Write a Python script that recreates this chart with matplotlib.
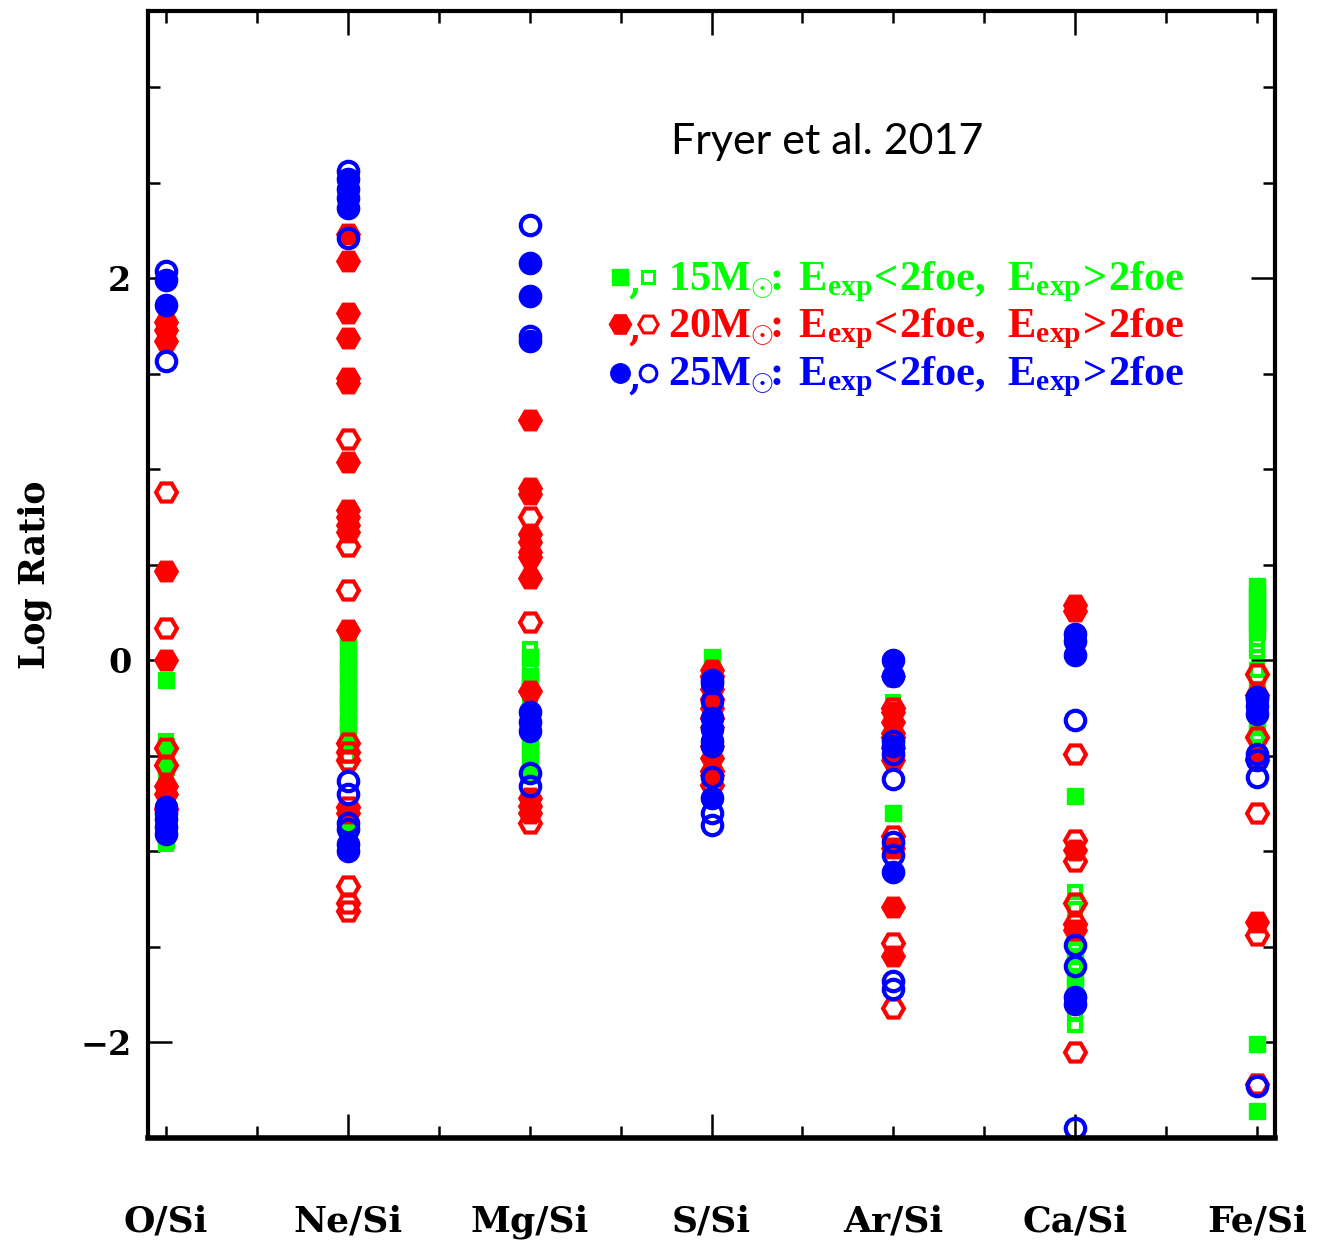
import matplotlib
matplotlib.use('Agg')
import matplotlib.pyplot as plt
from matplotlib.ticker import MultipleLocator

plt.rcParams['mathtext.fontset'] = 'custom'
plt.rcParams['mathtext.rm'] = 'Liberation Serif'
plt.rcParams['mathtext.bf'] = 'Liberation Serif:bold'

ratios = ['O/Si', 'Ne/Si', 'Mg/Si', 'S/Si', 'Ar/Si', 'Ca/Si', 'Fe/Si']

# log abundance ratios, one list per ratio (same order as `ratios`)
# "low"  -> explosion energy < 2 foe (filled symbols)
# "high" -> explosion energy > 2 foe (open symbols)
m15_low = [
    [-0.10, -0.45, -0.56, -0.74, -0.86, -0.94],
    [0.12, 0.07, 0.02, -0.03, -0.08, -0.13, -0.18, -0.23, -0.28, -0.33, -0.38, -0.43, -0.86],
    [0.02, -0.08, -0.13, -0.30, -0.45, -0.52, -0.60],
    [0.02, -0.40],
    [-0.80, -0.30, -0.45],
    [-0.71, -1.45, -1.55, -1.65, -1.70],
    [0.39, 0.35, 0.31, 0.27, 0.23, 0.19, 0.15, -0.15, -0.25, -0.35, -2.01, -2.36],
]
m15_high = [
    [-0.42, -0.62, -0.80, -0.96],
    [0.10, -0.05, -0.20, -0.35, -0.45, -0.50],
    [0.06, 0.01, -0.04, -0.10, -0.20, -0.35, -0.42, -0.48],
    [-0.05, -0.55],
    [-0.22, -0.35, -0.50],
    [-1.21, -1.30, -1.40, -1.50, -1.60, -1.75, -1.85, -1.91],
    [0.08, 0.05, -0.05, -0.39],
]
m20_low = [
    [1.77, 1.73, 1.67, 0.47, 0.00, -0.66, -0.70],
    [2.23, 2.09, 1.82, 1.69, 1.48, 1.45, 1.04, 0.79, 0.75, 0.71, 0.67, 0.16, -0.80],
    [1.26, 0.90, 0.87, 0.66, 0.62, 0.57, 0.54, 0.43, -0.16, -0.72, -0.76, -0.80],
    [-0.05, -0.15, -0.25, -0.35, -0.45, -0.51, -0.60],
    [-0.08, -0.27, -0.32, -0.38, -0.46, -0.52, -0.98, -1.29, -1.55],
    [0.29, 0.26, -0.99, -1.41],
    [-0.51, -1.37],
]
m20_high = [
    [0.88, 0.17, -0.46, -0.55, -0.78],
    [1.16, 0.60, 0.37, -0.43, -0.48, -0.52, -0.77, -1.18, -1.27, -1.31],
    [0.75, 0.20, -0.85],
    [-0.08, -0.20, -0.30, -0.58, -0.65],
    [-0.25, -0.40, -0.92, -1.48, -1.82],
    [-0.49, -0.94, -1.05, -1.27, -1.38, -2.05],
    [-0.07, -0.18, -0.40, -0.52, -0.80, -1.44, -2.22],
]
m25_low = [
    [1.99, 1.86, -0.77, -0.83, -0.87, -0.91],
    [2.52, 2.47, 2.42, 2.37, -0.96, -1.00],
    [2.08, 1.91, 1.67, -0.27, -0.32, -0.37],
    [-0.12, -0.30, -0.36, -0.42, -0.45, -0.72],
    [0.00, -0.08, -0.45, -1.11],
    [0.14, 0.10, 0.03, -1.76, -1.80],
    [-0.20, -0.24, -0.28],
]
m25_high = [
    [2.04, 1.57, -0.80],
    [2.56, 2.21, -0.63, -0.70, -0.85, -0.88],
    [2.28, 1.70, -0.59, -0.66],
    [-0.10, -0.21, -0.61, -0.80, -0.86],
    [-0.42, -0.49, -0.62, -0.95, -1.02, -1.68, -1.72],
    [-0.31, -1.49, -1.60, -2.45],
    [-0.19, -0.49, -0.52, -0.61, -2.23],
]

GREEN, RED, BLUE = '#00ff00', '#ff0000', '#0000ff'

# (low, high, colour, marker, size, label)
groups = [
    (m15_low, m15_high, GREEN, 's', 11, '15'),
    (m20_low, m20_high, RED, 'H', 17, '20'),
    (m25_low, m25_high, BLUE, 'o', 16, '25'),
]

fig = plt.figure(figsize=(13.31, 12.43), dpi=100)
ax = fig.add_axes([0.1112, 0.0845, 0.8468, 0.9067])

for low, high, col, mk, ms, lab in groups:
    for i, vals in enumerate(low):
        ax.plot([i + 1] * len(vals), vals, ls='none', marker=mk, ms=ms,
                mfc=col, mec=col, mew=1, clip_on=False)
    for i, vals in enumerate(high):
        ax.plot([i + 1] * len(vals), vals, ls='none', marker=mk, ms=ms - 2,
                mfc='none', mec=col, mew=3, clip_on=False)

ax.set_xlim(0.9, 7.1)
ax.set_ylim(-2.5, 3.4)

serif = {'family': 'DejaVu Serif', 'weight': 'bold'}

ax.set_xticks(range(1, len(ratios) + 1))
ax.set_xticklabels(ratios, fontdict=dict(serif, size=26))
ax.xaxis.set_minor_locator(MultipleLocator(0.5))
ax.yaxis.set_major_locator(MultipleLocator(2))
ax.yaxis.set_minor_locator(MultipleLocator(0.5))
for lbl in ax.get_yticklabels():
    lbl.set_fontfamily('DejaVu Serif')
    lbl.set_fontweight('bold')
    lbl.set_fontsize(24)

ax.tick_params(which='both', direction='in', top=True, right=True, width=1.8)
ax.tick_params(which='major', length=17)
ax.tick_params(which='minor', length=8.6)
ax.tick_params(axis='x', which='major', length=8.6, pad=48)
ax.tick_params(axis='y', which='major', pad=12)
# longer ticks at every second ratio
for pos, tick in zip(ax.get_xticks(), ax.xaxis.get_major_ticks()):
    if int(pos) % 2 == 0:
        tick.tick1line.set_markersize(17)
        tick.tick2line.set_markersize(17)

for side in ['left', 'right', 'top']:
    ax.spines[side].set_linewidth(3)
ax.spines['bottom'].set_linewidth(4)

ax.set_ylabel('Log Ratio', fontdict=dict(serif, size=25), labelpad=20)

ax.text(0.6025, 0.8837, 'Fryer et al. 2017', transform=ax.transAxes,
        ha='center', va='center', fontsize=31, family='Lato')

# hand-made legend
rows_y = [0.7638, 0.722, 0.679]
leg_ms = {'s': 11, 'H': 16, 'o': 14}
for (low, high, col, mk, ms, lab), yy in zip(groups, rows_y):
    ax.plot([0.419], [yy], transform=ax.transAxes, ls='none', marker=mk,
            ms=leg_ms[mk], mfc=col, mec=col, mew=1, clip_on=False)
    ax.text(0.4315, yy - 0.006, ',', transform=ax.transAxes, color=col,
            ha='center', va='center', fontdict=dict(serif, size=26))
    ax.plot([0.444], [yy], transform=ax.transAxes, ls='none', marker=mk,
            ms=leg_ms[mk] - 2, mfc='none', mec=col, mew=2.2, clip_on=False)
    txt = (r'$\mathbf{' + lab + r'M_{\odot}\!\!:\,E_{exp}\!<\!2foe,\ '
           r'E_{exp}\!>\!2foe}$')
    ax.text(0.461, yy - 0.004, txt, transform=ax.transAxes, color=col,
            ha='left', va='center', fontsize=30.5)

fig.savefig('out.png', dpi=100)
